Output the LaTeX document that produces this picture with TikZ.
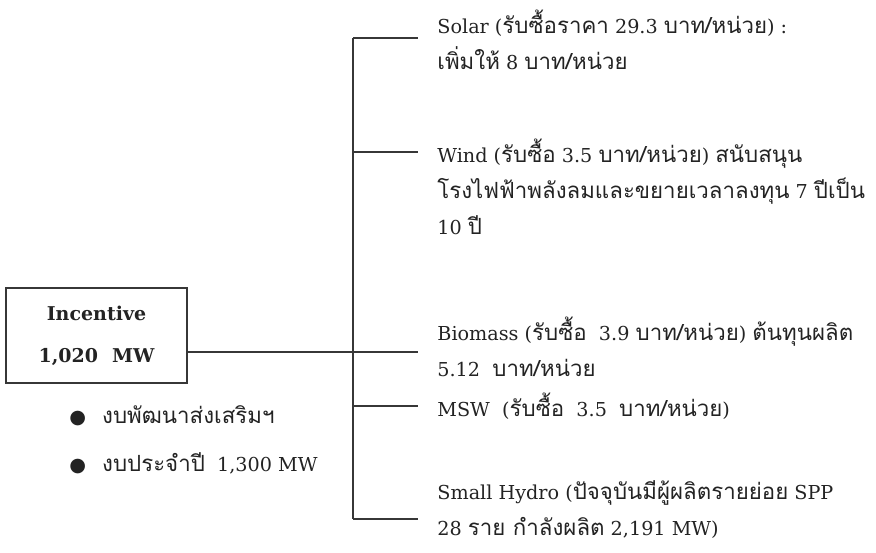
\documentclass[tikz,border=0pt]{standalone}
\usepackage{fontspec}
\usepackage{tikz}
\usetikzlibrary{positioning,calc}
\setmainfont{DejaVu Serif}
\newfontfamily\thaifont[Script=Thai,Scale=1.16]{Loma}
\newfontfamily\bulletfont{DejaVu Sans}
\newcommand{\tha}[1]{{\thaifont #1}}
\definecolor{wiregray}{RGB}{55,55,55}
\definecolor{inkgray}{RGB}{35,35,35}

\begin{document}
\begin{tikzpicture}[x=0.5pt, y=-0.5pt,
box/.style={draw=wiregray, line width=0.9pt, minimum width=90.5pt, minimum height=47.5pt,
align=center, font=\bfseries\fontsize{9.5}{21}\selectfont, text=inkgray},
leaf/.style={anchor=west, align=left, inner xsep=9.5pt, inner ysep=0pt,
font=\fontsize{9.6}{18}\selectfont, text=inkgray},
bul/.style={anchor=west, inner sep=0pt, font=\fontsize{9.6}{18}\selectfont, text=inkgray},
wire/.style={draw=wiregray, line width=0.9pt}
]
\useasboundingbox (0,0) rectangle (876,552);

\node[box] (inc) at (96.5,335.5) {Incentive\\1,020\hspace{7pt}MW};

\node[leaf] (solar) at (418,40)
{Solar (\tha{รับซื้อราคา} 29.3 \tha{บาท/หน่วย}) :\\\tha{เพิ่มให้} 8 \tha{บาท/หน่วย}};
\node[leaf] (wind) at (418,187)
{Wind (\tha{รับซื้อ} 3.5 \tha{บาท/หน่วย}) \tha{สนับสนุน}\\\tha{โรงไฟฟ้าพลังลมและขยายเวลาลงทุน} 7 \tha{ปีเป็น}\\10 \tha{ปี}};
\node[leaf] (bio) at (418,347)
{Biomass (\tha{รับซื้อ}~~3.9 \tha{บาท/หน่วย}) \tha{ต้นทุนผลิต}\\5.12~~\tha{บาท/หน่วย}};
\node[leaf] (msw) at (418,406)
{MSW~~(\tha{รับซื้อ}~~3.5~~\tha{บาท/หน่วย})};
\node[leaf] (hydro) at (418,510)
{Small Hydro (\tha{ปัจจุบันมีผู้ผลิตรายย่อย} SPP\\28 \tha{ราย กำลังผลิต} 2,191 MW)};

\node[bul] (fund1) at (69,416) {{\bulletfont ●}\hspace{8pt}\tha{งบพัฒนาส่งเสริมฯ}};
\node[bul] (fund2) at (69,463) {{\bulletfont ●}\hspace{8pt}\tha{งบประจำปี}~~1,300 MW};

\coordinate (bsolar) at (353,38);
\coordinate (bwind) at (353,152);
\coordinate (bbio) at (353,352);
\coordinate (bmsw) at (353,406);
\coordinate (bhydro) at (353,519);

\draw[wire] (bsolar) -- (bhydro);
\draw[wire] (bsolar) -- (bsolar -| solar.west);
\draw[wire] (bwind) -- (bwind -| wind.west);
\draw[wire] (bbio -| inc.east) -- (bbio -| bio.west);
\draw[wire] (bmsw) -- (bmsw -| msw.west);
\draw[wire] (bhydro) -- (bhydro -| hydro.west);

\end{tikzpicture}
\end{document}
